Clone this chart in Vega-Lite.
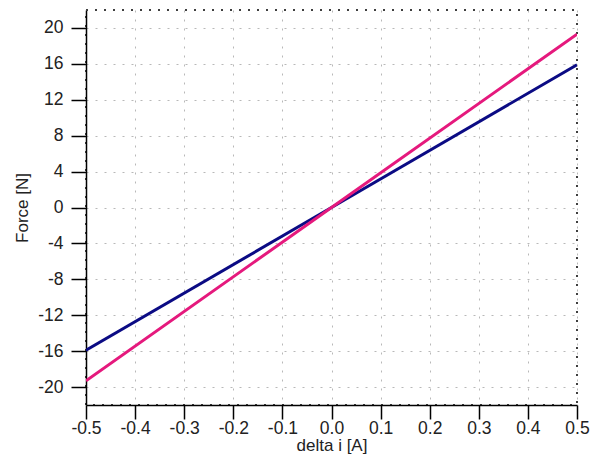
{
  "$schema": "https://vega.github.io/schema/vega-lite/v6.json",
  "width": 491,
  "height": 395,
  "autosize": "none",
  "padding": {"left": 86, "top": 10, "right": 14, "bottom": 55},
  "background": "white",
  "data": {
    "values": [
      {"series": "A", "di": -0.5, "force": -15.9},
      {"series": "A", "di": 0.0, "force": 0.0},
      {"series": "A", "di": 0.5, "force": 15.9},
      {"series": "B", "di": -0.5, "force": -19.3},
      {"series": "B", "di": 0.0, "force": 0.0},
      {"series": "B", "di": 0.5, "force": 19.3}
    ]
  },
  "mark": {"type": "line", "strokeWidth": 3, "clip": true},
  "encoding": {
    "x": {
      "field": "di",
      "type": "quantitative",
      "scale": {"domain": [-0.5, 0.5], "nice": false, "zero": false},
      "axis": {
        "title": "delta i [A]",
        "values": [-0.5, -0.4, -0.3, -0.2, -0.1, 0, 0.1, 0.2, 0.3, 0.4, 0.5],
        "format": ".1f",
        "labelExpr": "replace(datum.label, '\u2212', '-')",
        "labelFlush": false,
        "labelOverlap": false,
        "tickSize": 14,
        "labelPadding": 0,
        "titlePadding": 1
      }
    },
    "y": {
      "field": "force",
      "type": "quantitative",
      "scale": {"domain": [-22, 22], "nice": false, "zero": false},
      "axis": {
        "title": "Force [N]",
        "values": [-20, -16, -12, -8, -4, 0, 4, 8, 12, 16, 20],
        "format": "~g",
        "labelExpr": "replace(datum.label, '\u2212', '-')",
        "labelFlush": false,
        "labelOverlap": false,
        "tickSize": 15,
        "labelPadding": 8,
        "titlePadding": 6
      }
    },
    "color": {
      "field": "series",
      "type": "nominal",
      "scale": {"domain": ["A", "B"], "range": ["#0b0b84", "#e5197d"]},
      "legend": null
    }
  },
  "config": {
    "view": {"stroke": "#000000", "strokeWidth": 1.5, "strokeDash": [2, 7]},
    "axis": {
      "domainColor": "#000000",
      "domainWidth": 1.5,
      "tickColor": "#000000",
      "tickWidth": 1.5,
      "grid": true,
      "gridColor": "#b8b8b8",
      "gridDash": [2, 7],
      "gridWidth": 1,
      "labelFont": "Liberation Sans",
      "labelFontSize": 17.5,
      "labelColor": "#222222",
      "titleFont": "Liberation Sans",
      "titleFontSize": 17,
      "titleFontWeight": "normal",
      "titleColor": "#222222"
    }
  }
}
